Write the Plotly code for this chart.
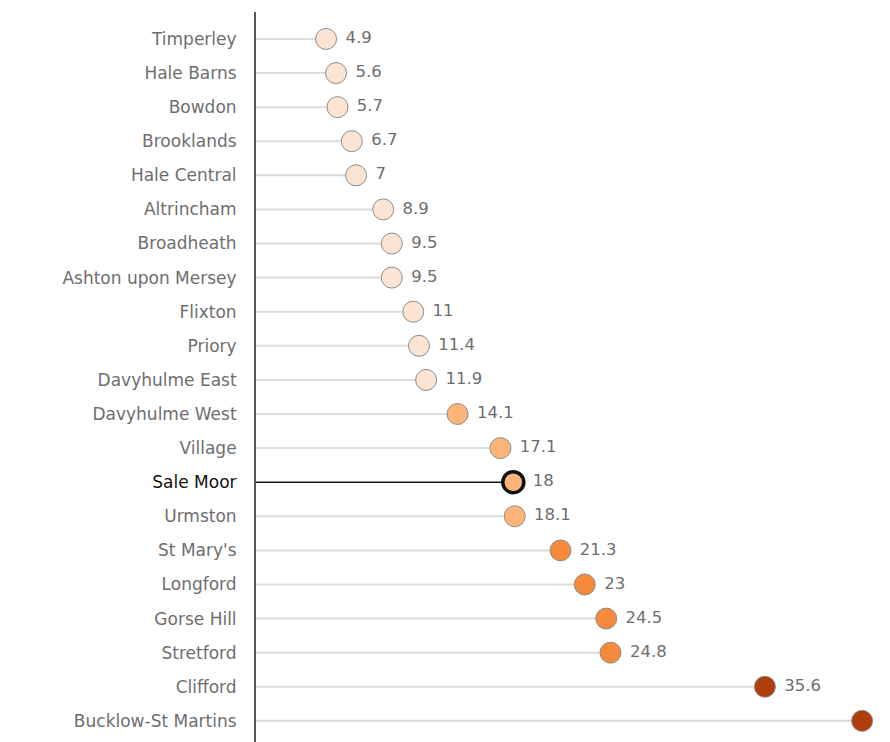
import plotly.graph_objects as go

wards = ["Timperley", "Hale Barns", "Bowdon", "Brooklands", "Hale Central",
         "Altrincham", "Broadheath", "Ashton upon Mersey", "Flixton", "Priory",
         "Davyhulme East", "Davyhulme West", "Village", "Sale Moor", "Urmston",
         "St Mary's", "Longford", "Gorse Hill", "Stretford", "Clifford",
         "Bucklow-St Martins"]
values = [4.9, 5.6, 5.7, 6.7, 7, 8.9, 9.5, 9.5, 11, 11.4, 11.9, 14.1, 17.1,
          18, 18.1, 21.3, 23, 24.5, 24.8, 35.6, 42.4]
highlight = "Sale Moor"


def colour_for(v):
    if v < 12:
        return "#fbe5d2"
    if v < 20:
        return "#fdb479"
    if v < 30:
        return "#f58a3d"
    return "#b03d0c"


fig = go.Figure()

# stems
sx, sy = [], []
for w, v in zip(wards, values):
    if w == highlight:
        continue
    sx += [0, v, None]
    sy += [w, w, None]
fig.add_trace(go.Scatter(x=sx, y=sy, mode="lines",
                         line=dict(color="#dcdcdc", width=2),
                         hoverinfo="skip", showlegend=False))
hv = values[wards.index(highlight)]
fig.add_trace(go.Scatter(x=[0, hv], y=[highlight, highlight], mode="lines",
                         line=dict(color="#111111", width=1.5),
                         hoverinfo="skip", showlegend=False))

# markers
fig.add_trace(go.Scatter(
    x=values, y=wards, mode="markers+text",
    text=[f" {v:g}" for v in values], textposition="middle right",
    textfont=dict(family="DejaVu Sans", size=16.5, color="#6e6e6e"),
    marker=dict(size=21,
                color=[colour_for(v) for v in values],
                line=dict(color=["#111111" if w == highlight else "#8c8c8c" for w in wards],
                          width=[3.5 if w == highlight else 1 for w in wards])),
    cliponaxis=False, showlegend=False))

tick_text = [f"<span style='color:#111'>{w}</span>" if w == highlight else w for w in wards]

fig.update_layout(
    width=882, height=734,
    margin=dict(l=248, r=0, t=4, b=0),
    paper_bgcolor="white", plot_bgcolor="white",
    font=dict(family="DejaVu Sans", size=17, color="#6e6e6e"),
    xaxis=dict(range=[0, 44.35], showgrid=False, zeroline=False,
               showticklabels=False, showline=False),
    yaxis=dict(categoryorder="array", categoryarray=wards,
               tickmode="array", tickvals=wards, ticktext=tick_text,
               range=[20.62, -0.79], showgrid=False, zeroline=False,
               showline=True, linecolor="#555555", linewidth=2,
               ticks="", ticklabelstandoff=14,
               tickfont=dict(family="DejaVu Sans", size=17, color="#6e6e6e")),
)

fig.write_html("out.html")
